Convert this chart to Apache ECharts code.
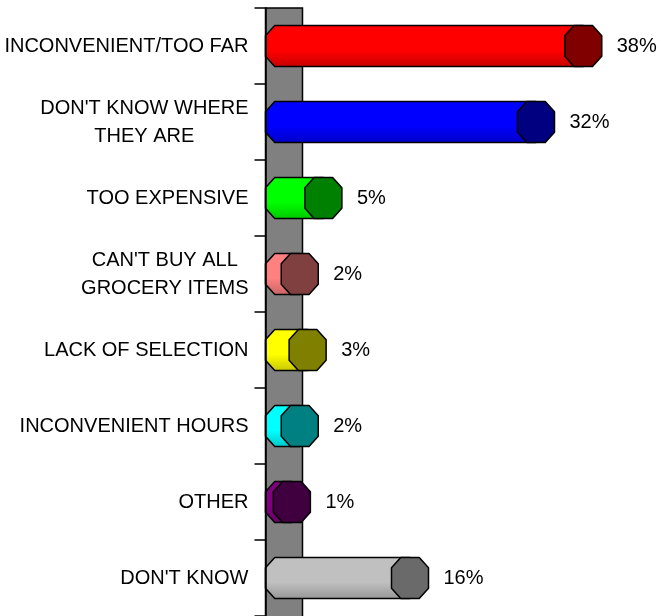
<!DOCTYPE html>
<html>
<head>
<meta charset="utf-8">
<script src="https://cdn.jsdelivr.net/npm/echarts@6/dist/echarts.min.js"></script>
<style>
  html, body { margin: 0; padding: 0; background: #ffffff; }
  #chart { width: 661px; height: 616px; }
</style>
</head>
<body>
<div id="chart"></div>
<script>
// Reasons given, top to bottom
const categories = [
  "INCONVENIENT/TOO FAR",
  "DON'T KNOW WHERE\nTHEY ARE",
  "TOO EXPENSIVE",
  "CAN'T BUY ALL\nGROCERY ITEMS",
  "LACK OF SELECTION",
  "INCONVENIENT HOURS",
  "OTHER",
  "DON'T KNOW"
];
// Share of respondents (%)
const values = [38, 32, 5, 2, 3, 2, 1, 16];
// Cylinder side colours and front-cap colours
const bodyColors = ['#ff0000', '#0000ff', '#00ff00', '#ff8080', '#ffff00', '#00ffff', '#800080', '#c0c0c0'];
const capColors  = ['#800000', '#000080', '#008000', '#804040', '#808000', '#008080', '#400040', '#6a6a6a'];

const RX = 18.5;   // horizontal radius of the cylinder ends
const RY = 20.5;   // vertical radius of the cylinder ends
const K = 0.5;     // octagon corner cut
const FAMILY = '"Liberation Sans", Arial, sans-serif';
const VALUE_FONT = '20px ' + FAMILY;

function shade(hex, f) {
  const n = parseInt(hex.slice(1), 16);
  const r = Math.round(((n >> 16) & 255) * f);
  const g = Math.round(((n >> 8) & 255) * f);
  const b = Math.round((n & 255) * f);
  return 'rgb(' + r + ',' + g + ',' + b + ')';
}

function octagon(cx, cy) {
  return [
    [cx - K * RX, cy - RY], [cx + K * RX, cy - RY],
    [cx + RX, cy - K * RY], [cx + RX, cy + K * RY],
    [cx + K * RX, cy + RY], [cx - K * RX, cy + RY],
    [cx - RX, cy + K * RY], [cx - RX, cy - K * RY]
  ];
}

// Grey back wall the cylinders grow out of
function renderWall(params, api) {
  const cs = params.coordSys;
  const x = api.coord([0, 0])[0];
  return {
    type: 'rect',
    shape: { x: x - RX, y: cs.y, width: 2 * RX, height: cs.height + 10 },
    style: { fill: '#808080', stroke: '#000000', lineWidth: 1.5 }
  };
}

function renderBar(params, api) {
  const i = params.dataIndex;
  const idx = api.value(1);
  const v = api.value(0);
  const start = api.coord([0, idx]);
  const end = api.coord([v, idx]);
  const cy = start[1];
  const x0 = start[0];
  const x1 = end[0];
  const body = [
    [x1, cy - RY],
    [x0 - K * RX, cy - RY],
    [x0 - RX, cy - K * RY],
    [x0 - RX, cy + K * RY],
    [x0 - K * RX, cy + RY],
    [x1, cy + RY]
  ];
  const c = bodyColors[i];
  return {
    type: 'group',
    children: [
      {
        type: 'polygon',
        shape: { points: body },
        style: {
          fill: {
            type: 'linear', x: 0, y: 0, x2: 0, y2: 1,
            colorStops: [
              { offset: 0, color: c },
              { offset: 0.6, color: c },
              { offset: 1, color: shade(c, 0.78) }
            ]
          },
          stroke: '#000000', lineWidth: 1.5, lineJoin: 'round'
        }
      },
      {
        type: 'polygon',
        shape: { points: octagon(x1, cy) },
        style: { fill: capColors[i], stroke: '#000000', lineWidth: 1.5, lineJoin: 'round' }
      },
      {
        type: 'text',
        style: {
          text: v + '%',
          x: x1 + RX + 15,
          y: cy,
          verticalAlign: 'middle',
          align: 'left',
          font: VALUE_FONT,
          fill: '#000000'
        }
      }
    ]
  };
}

const chart = echarts.init(document.getElementById('chart'), null, { renderer: 'canvas' });

chart.setOption({
  animation: false,
  backgroundColor: '#ffffff',
  grid: { left: 284, top: 8, width: 315, bottom: 0 },
  xAxis: {
    type: 'value', min: 0, max: 40, show: false
  },
  yAxis: {
    type: 'category',
    inverse: true,
    data: categories,
    position: 'left',
    offset: RX,
    z: 5,
    axisLine: { show: true, onZero: false, lineStyle: { color: '#000000', width: 1.5 } },
    axisTick: {
      show: true, inside: false, alignWithLabel: false, length: 11,
      lineStyle: { color: '#000000', width: 1.5 }
    },
    splitLine: { show: false },
    axisLabel: {
      margin: 17,
      color: '#000000',
      fontFamily: FAMILY,
      fontSize: 20,
      lineHeight: 28,
      formatter: function (val) {
        return val.split('\n').map(function (s) { return '{c|' + s + '}'; }).join('\n');
      },
      rich: {
        c: {
          align: 'center',
          fontFamily: FAMILY,
          fontSize: 20,
          lineHeight: 28,
          color: '#000000'
        }
      }
    }
  },
  series: [
    {
      type: 'custom',
      renderItem: renderWall,
      data: [[0, 0]],
      clip: false,
      silent: true,
      z: 1
    },
    {
      type: 'custom',
      renderItem: renderBar,
      data: values.map(function (v, i) { return [v, i]; }),
      encode: { x: 0, y: 1 },
      clip: false,
      z: 3
    }
  ]
});
</script>
</body>
</html>
